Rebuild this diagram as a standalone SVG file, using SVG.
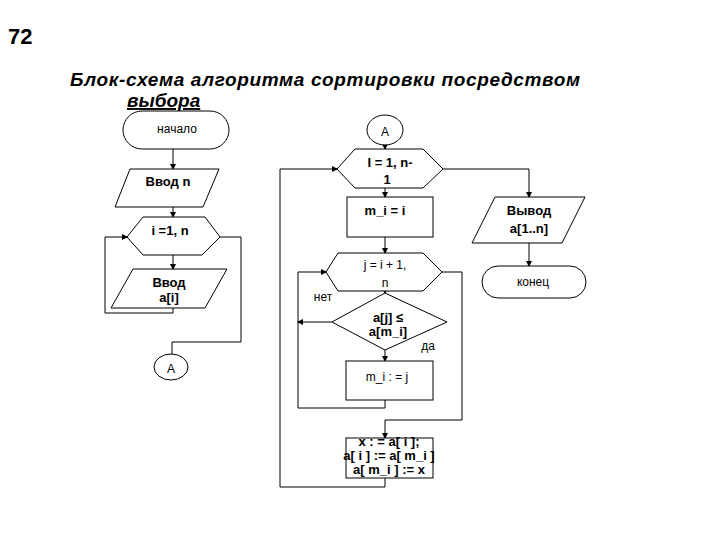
<svg xmlns="http://www.w3.org/2000/svg" width="720" height="540" viewBox="0 0 720 540">
<style>
.s{fill:#fff;stroke:#000;stroke-width:1}
.l{fill:none;stroke:#000;stroke-width:1}
.t{font-family:"Liberation Sans",Arial,sans-serif;font-size:13px;font-weight:bold;text-anchor:middle;fill:#000}
.n{font-family:"Liberation Sans",Arial,sans-serif;font-size:12px;text-anchor:middle;fill:#000}
</style>
<defs>
<marker id="a" markerWidth="6" markerHeight="6" refX="5" refY="3" orient="auto" markerUnits="userSpaceOnUse">
<path d="M0,0 L6,3 L0,6 Z" fill="#000"/>
</marker>
</defs>
<rect width="720" height="540" fill="#fff"/>
<text x="8" y="44" font-family="Liberation Sans,Arial,sans-serif" font-size="22" font-weight="bold">72</text>
<text x="70" y="86" font-family="Liberation Sans,Arial,sans-serif" font-size="19" font-weight="bold" font-style="italic" textLength="510">Блок-схема алгоритма сортировки посредством</text>
<text x="127" y="107" font-family="Liberation Sans,Arial,sans-serif" font-size="19" font-weight="bold" font-style="italic" text-decoration="underline">выбора</text>

<g id="connectors">
<path class="l" d="M173,149 V169" marker-end="url(#a)"/>
<path class="l" d="M173,207 V217" marker-end="url(#a)"/>
<path class="l" d="M173,255 V269" marker-end="url(#a)"/>
<path class="l" d="M173,308 V313 H105 V237 H127" marker-end="url(#a)"/>
<path class="l" d="M220,237 H241 V342 H172 V354"/>
<path class="l" d="M385,145 V149" marker-end="url(#a)"/>
<path class="l" d="M385,188 V197" marker-end="url(#a)"/>
<path class="l" d="M385,237 V253" marker-end="url(#a)"/>
<path class="l" d="M385,291 V293" marker-end="url(#a)"/>
<path class="l" d="M385,350 V361" marker-end="url(#a)"/>
<path class="l" d="M332,322 H298" stroke-width="2" marker-end="url(#a)"/>
<path class="l" d="M385,400 V408 H298 V272 H326" marker-end="url(#a)"/>
<path class="l" d="M442,272 H462 V420 H385 V438" marker-end="url(#a)"/>
<path class="l" d="M385,478 V487 H280 V169 H337" marker-end="url(#a)"/>
<path class="l" d="M443,169 H529 V197" marker-end="url(#a)"/>
<path class="l" d="M529,243 V266" marker-end="url(#a)"/>
</g>

<g id="start">
<rect class="s" x="123" y="111" width="106" height="38" rx="19"/>
<text class="n" x="177" y="133" font-size="11">начало</text>
</g>
<g id="input-n">
<path class="s" d="M130,169 H219 L203,207 H115 Z"/>
<text class="t" x="168" y="186">Ввод n</text>
</g>
<g id="loop-i">
<path class="s" d="M143,217 H205 L220,237 L202,255 H143 L127,237 Z"/>
<text class="t" x="170" y="235">i =1, n</text>
</g>
<g id="input-a">
<path class="s" d="M133,269 H227 L205,308 H111 Z"/>
<text class="t" x="169" y="287">Ввод</text>
<text class="t" x="169" y="302">a[i]</text>
</g>
<g id="conn-a1">
<ellipse class="s" cx="171" cy="367" rx="17" ry="13"/>
<text class="n" x="171" y="373" font-size="16">A</text>
</g>

<g id="conn-a2">
<ellipse class="s" cx="385" cy="130" rx="18" ry="15"/>
<text class="n" x="385" y="136" font-size="16">A</text>
</g>
<g id="loop-I">
<path class="s" d="M355,149 H423 L443,169 L423,188 H355 L337,169 Z"/>
<text class="t" x="390" y="167">I = 1, n-</text>
<text class="t" x="387" y="184">1</text>
</g>
<g id="mi-i">
<rect class="s" x="347" y="197" width="86" height="40"/>
<text class="t" x="385" y="215">m_i = i</text>
</g>
<g id="loop-j">
<path class="s" d="M338,253 H423 L442,272 L423,291 H338 L326,272 Z"/>
<text class="n" x="385" y="269">j = i + 1,</text>
<text class="n" x="385" y="287">n</text>
</g>
<g id="cond">
<path class="s" d="M385,293 L447,322 L385,350 L332,322 Z"/>
<text class="t" x="388" y="322" font-size="11">a[j]  ≤</text>
<text class="t" x="388" y="336" font-size="11">a[m_i]</text>
</g>
<text class="n" x="323" y="301" font-size="11">нет</text>
<text class="n" x="428" y="350" font-size="11">да</text>
<g id="mi-j">
<rect class="s" x="346" y="361" width="87" height="39"/>
<text class="n" x="387" y="381" font-size="13">m_i : = j</text>
</g>
<g id="swap">
<rect class="s" x="346" y="438" width="87" height="40"/>
<text class="t" x="389" y="446" font-size="11">x : = a[ i ];</text>
<text class="t" x="389" y="460" font-size="11">a[ i ] := a[ m_i ]</text>
<text class="t" x="389" y="474" font-size="11">a[ m_i ] := x</text>
</g>
<g id="output">
<path class="s" d="M495,197 H585 L562,243 H472 Z"/>
<text class="t" x="529" y="215">Вывод</text>
<text class="t" x="529" y="233">a[1..n]</text>
</g>
<g id="end">
<rect class="s" x="482" y="266" width="104" height="32" rx="16"/>
<text class="n" x="533" y="286" font-size="11">конец</text>
</g>
</svg>
